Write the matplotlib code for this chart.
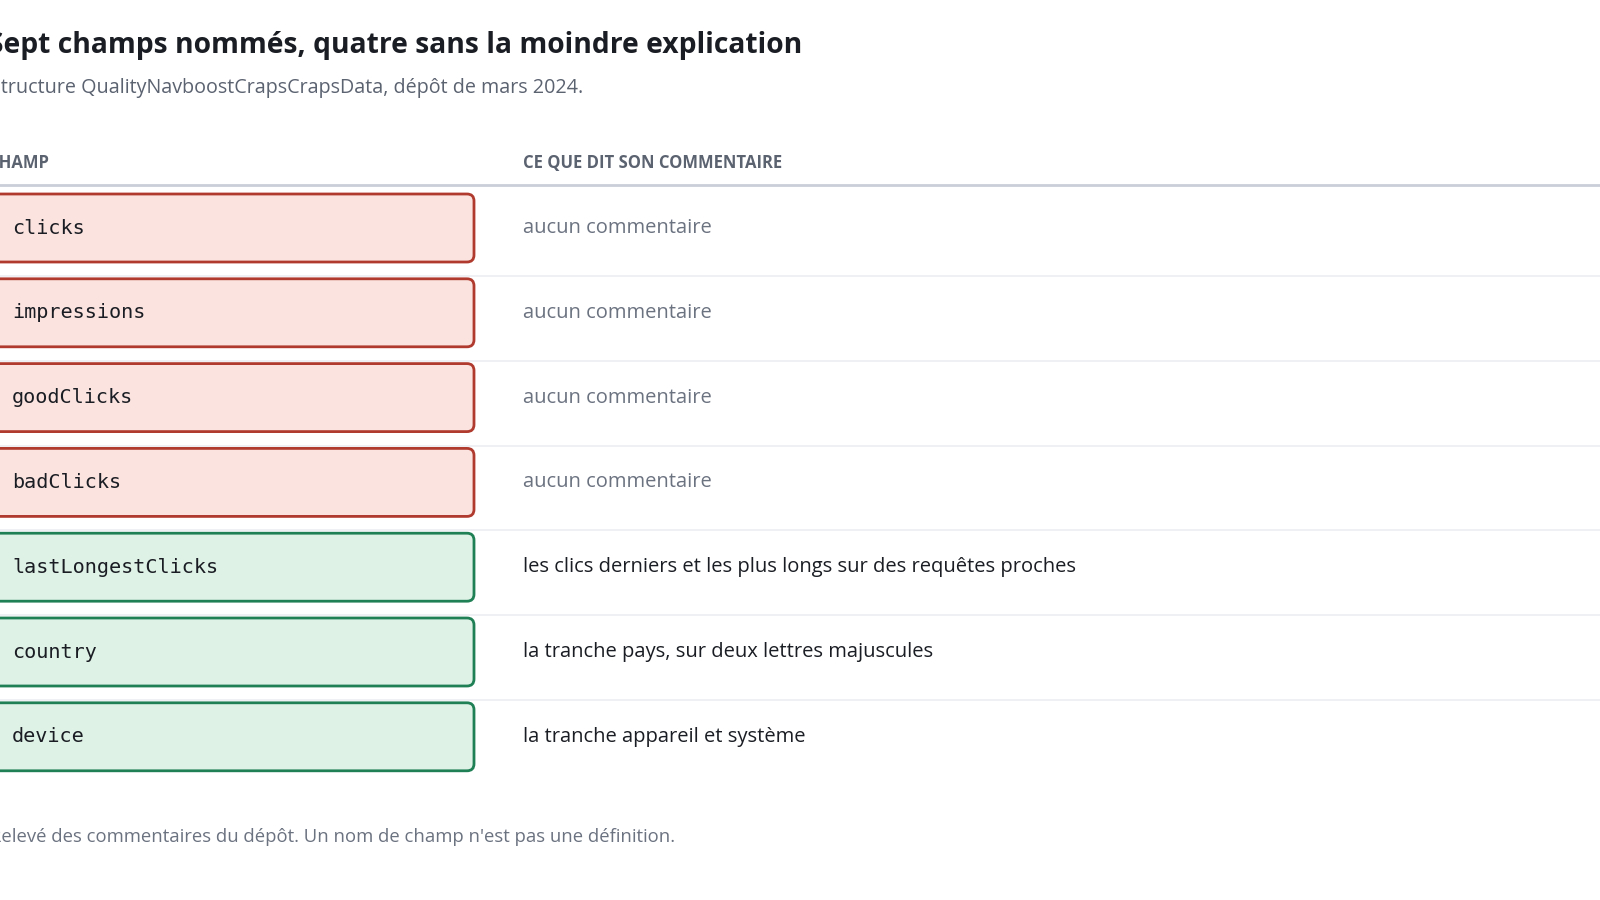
import matplotlib.pyplot as plt
from matplotlib.patches import FancyBboxPatch

# Data
fields = ["clicks", "impressions", "goodClicks", "badClicks",
          "lastLongestClicks", "country", "device"]
comments = ["aucun commentaire", "aucun commentaire", "aucun commentaire", "aucun commentaire",
            "les clics derniers et les plus longs sur des requêtes proches",
            "la tranche pays, sur deux lettres majuscules",
            "la tranche appareil et système"]
documented = [False, False, False, False, True, True, True]

title = "Sept champs nommés, quatre sans la moindre explication"
subtitle = "Structure QualityNavboostCrapsCrapsData, dépôt de mars 2024."
footnote = "Relevé des commentaires du dépôt. Un nom de champ n'est pas une définition."

plt.rcParams["font.family"] = ["Open Sans", "DejaVu Sans"]

fig = plt.figure(figsize=(16, 9), dpi=100)
ax = fig.add_axes([0, 0, 1, 1])
ax.set_xlim(0, 1600)
ax.set_ylim(900, 0)
ax.axis("off")

ax.text(-12, 45, title, fontsize=20.3, fontweight="bold", color="#1a1d23", va="center")
ax.text(-10, 88, subtitle, fontsize=14.2, color="#5b6270", va="center")
ax.text(-12, 163, "CHAMP", fontsize=12, fontweight="bold", color="#5b6270", va="center")
ax.text(523, 163, "CE QUE DIT SON COMMENTAIRE", fontsize=12, fontweight="bold",
        color="#5b6270", va="center")
ax.plot([0, 1600], [185, 185], color="#c9ced8", lw=2)

y0, step = 228, 84.8
for i, (f, c, ok) in enumerate(zip(fields, comments, documented)):
    y = y0 + i * step
    fc, ec = ("#dff2e6", "#1f7f55") if ok else ("#fbe4e0", "#b03a2e")
    ax.add_patch(FancyBboxPatch((-20, y - 34), 494, 68,
                                boxstyle="round,pad=0,rounding_size=7",
                                fc=fc, ec=ec, lw=2))
    ax.text(12, y, f, fontsize=14.5, family="DejaVu Sans Mono", color="#1a1d23", va="center")
    ax.text(523, y, c, fontsize=14.5, color="#1a1d23" if ok else "#6b7280", va="center")
    if i < len(fields) - 1:
        ax.plot([0, 1600], [y + 48, y + 48], color="#eceef2", lw=1.2)

ax.text(-10, 837, footnote, fontsize=13.3, color="#6b7280", va="center")

fig.savefig("out.png", dpi=100)
